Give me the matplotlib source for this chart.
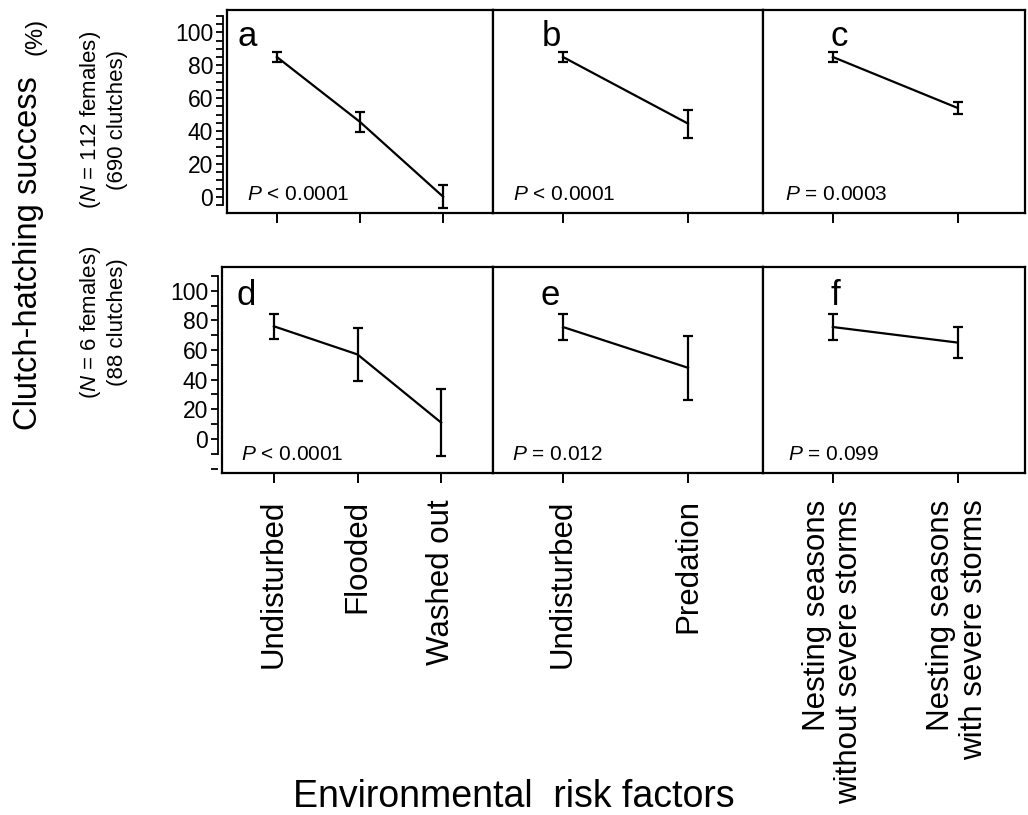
import matplotlib
matplotlib.use("Agg")
import matplotlib.pyplot as plt
from matplotlib.ticker import MultipleLocator

plt.rcParams['font.family'] = ['Liberation Sans', 'DejaVu Sans']
plt.rcParams['mathtext.fontset'] = 'custom'
plt.rcParams['mathtext.it'] = 'Liberation Sans:italic'
plt.rcParams['mathtext.rm'] = 'Liberation Sans'

# ---- data ----
cats_flood = ["Undisturbed", "Flooded", "Washed out"]
cats_pred = ["Undisturbed", "Predation"]
cats_storm = ["Nesting seasons\nwithout severe storms", "Nesting seasons\nwith severe storms"]

a_mean = [85, 45.5, 0]
a_err = [3, 6, 7]
b_mean = [85, 44.5]
b_err = [3, 8.5]
c_mean = [85, 54]
c_err = [3, 3.7]

d_mean = [76, 57, 11]
d_err = [8.6, 17.7, 22.5]
e_mean = [75.5, 48]
e_err = [8.6, 21.7]
f_mean = [75.5, 65]
f_err = [8.6, 10.5]

p_top = [r"$P$ < 0.0001", r"$P$ < 0.0001", r"$P$ = 0.0003"]
p_bot = [r"$P$ < 0.0001", r"$P$ = 0.012", r"$P$ = 0.099"]
letters_top = ["a", "b", "c"]
letters_bot = ["d", "e", "f"]

W, H = 1028, 815
fig = plt.figure(figsize=(W / 100, H / 100), dpi=100)


def px_axes(l, r, t, b):
    return fig.add_axes([l / W, 1 - b / H, (r - l) / W, (b - t) / H])


LW = 1.6

def style(ax, ylim, xlim, ylabels, major_minor):
    ax.set_ylim(*ylim)
    ax.set_xlim(*xlim)
    for s in ax.spines.values():
        s.set_linewidth(LW)
    ax.tick_params(axis='x', direction='out', length=7, width=1.4, labelsize=22.5, pad=12)
    if ylabels:
        ax.spines['left'].set_position(('outward', 3))
        ax.spines['left'].set_bounds(major_minor[2], major_minor[3])
        ax.spines['left'].set_linewidth(1.3)
        ax.yaxis.set_major_locator(plt.FixedLocator([0, 20, 40, 60, 80, 100]))
        ax.yaxis.set_minor_locator(MultipleLocator(major_minor[1]))
        ax.tick_params(axis='y', which='major', direction='out', length=5, width=1.3, labelsize=16.5, pad=2)
        ax.tick_params(axis='y', which='minor', direction='out', length=5, width=1.3)
        # frame left edge
        ax.plot([0, 0], [0, 1], transform=ax.transAxes, color='k', lw=LW, clip_on=False)
    else:
        ax.set_yticks([])


def draw(ax, cats, mean, err, letter, lx, ly, ptxt, px, bottom_labels):
    x = list(range(len(cats)))
    ax.errorbar(x, mean, yerr=err, color='k', lw=1.6, capsize=3.3, capthick=1.6,
                elinewidth=1.6)
    ax.set_xticks(x)
    if bottom_labels:
        ax.set_xticklabels(cats, rotation=90, multialignment='right', linespacing=1.1)
    else:
        ax.set_xticklabels([])
    ax.text(lx, ly, letter, fontsize=25, va='baseline', ha='left')
    ax.text(px, 0.064, ptxt, fontsize=15, transform=ax.transAxes, va='baseline', ha='left')


# top row
top_t, top_b = 10, 213
ax_a = px_axes(227, 493, top_t, top_b)
ax_b = px_axes(493, 763, top_t, top_b)
ax_c = px_axes(763, 1025, top_t, top_b)
ylim_top = (-9.9, 113.6)
style(ax_a, ylim_top, (-0.6, 2.6), True, (20, 5, -5, 110))
style(ax_b, ylim_top, (-0.56, 1.6), False, None)
style(ax_c, ylim_top, (-0.56, 1.54), False, None)
draw(ax_a, cats_flood, a_mean, a_err, letters_top[0], -0.47, 92, p_top[0], 0.075, False)
draw(ax_b, cats_pred, b_mean, b_err, letters_top[1], -0.17, 92, p_top[1], 0.074, False)
draw(ax_c, cats_storm, c_mean, c_err, letters_top[2], -0.02, 92, p_top[2], 0.084, False)

# bottom row
bot_t, bot_b = 267, 473
ax_d = px_axes(222, 493, bot_t, bot_b)
ax_e = px_axes(493, 763, bot_t, bot_b)
ax_f = px_axes(763, 1025, bot_t, bot_b)
ylim_bot = (-23, 116)
style(ax_d, ylim_bot, (-0.62, 2.62), True, (20, 10, -10, 110))
style(ax_e, ylim_bot, (-0.56, 1.6), False, None)
style(ax_f, ylim_bot, (-0.56, 1.54), False, None)
draw(ax_d, cats_flood, d_mean, d_err, letters_bot[0], -0.45, 90.5, p_bot[0], 0.071, True)
draw(ax_e, cats_pred, e_mean, e_err, letters_bot[1], -0.18, 90.5, p_bot[1], 0.07, True)
draw(ax_f, cats_storm, f_mean, f_err, letters_bot[2], -0.02, 90.5, p_bot[2], 0.095, True)

# y-axis labels
fig.text(29 / W, 1 - 430 / H, "Clutch-hatching success", rotation=90, fontsize=23.5,
         ha='center', va='bottom')
fig.text(35 / W, 1 - 18 / H, "(%)", rotation=90, fontsize=17, ha='center', va='top')
fig.text(103 / W, 1 - 120 / H, "($N$ = 112 females)\n(690 clutches)", rotation=90,
         fontsize=16, ha='center', va='center', multialignment='center', linespacing=1.2)
fig.text(103 / W, 1 - 322 / H, "($N$ = 6 females)\n(88 clutches)", rotation=90,
         fontsize=16, ha='center', va='center', multialignment='center', linespacing=1.2)

# x-axis label
fig.text(514 / W, 1 - 807 / H, "Environmental  risk factors", fontsize=27,
         ha='center', va='baseline')

fig.savefig("out.png", dpi=100)
